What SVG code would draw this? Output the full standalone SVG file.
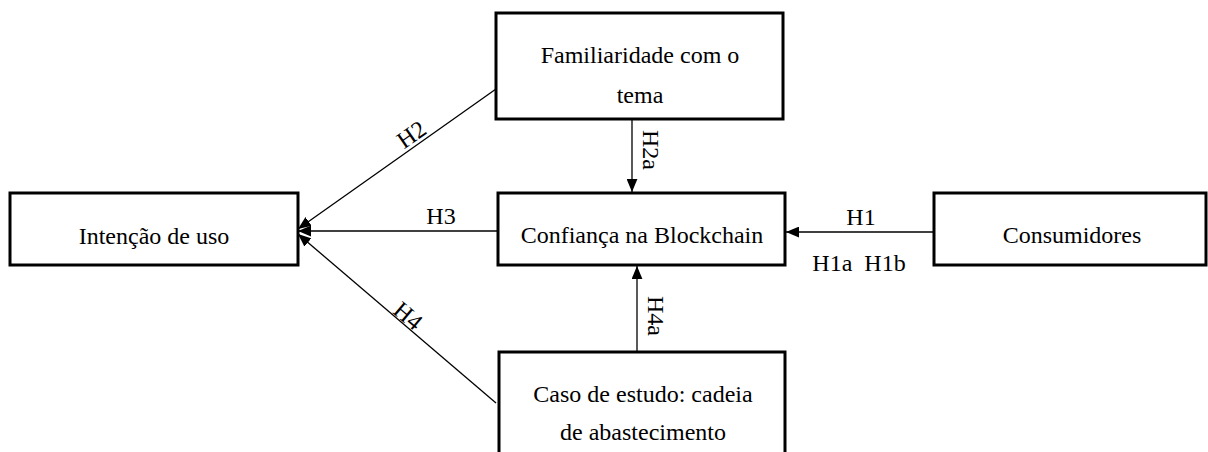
<svg xmlns="http://www.w3.org/2000/svg" width="1208" height="452" viewBox="0 0 1208 452">
<style>
.box{fill:#fff;stroke:#000;stroke-width:3}
.t{font-family:"Liberation Serif","Times New Roman",serif;font-size:24px;fill:#000;text-anchor:middle;white-space:pre}
.c{stroke:#000;stroke-width:1.3;fill:none}
</style>
<defs>
<marker id="ah" viewBox="0 0 12 10" refX="12" refY="5" markerWidth="13" markerHeight="11" markerUnits="userSpaceOnUse" orient="auto">
<path d="M0,0 L12,5 L0,10 Z" fill="#000"/>
</marker>
</defs>
<rect width="1208" height="452" fill="#fff"/>
<g id="connectors">
<line class="c" x1="496" y1="89" x2="298" y2="229" marker-end="url(#ah)"/>
<line class="c" x1="498" y1="231" x2="298" y2="231" marker-end="url(#ah)"/>
<line class="c" x1="496" y1="403" x2="298" y2="234" marker-end="url(#ah)"/>
<line class="c" x1="632" y1="119" x2="632" y2="192" marker-end="url(#ah)"/>
<line class="c" x1="637" y1="351" x2="637" y2="266" marker-end="url(#ah)"/>
<line class="c" x1="933" y1="232" x2="786" y2="232" marker-end="url(#ah)"/>
<text class="t" transform="translate(416,141) rotate(-35)">H2</text>
<text class="t" x="441" y="224">H3</text>
<text class="t" transform="translate(403,322) rotate(40)">H4</text>
<text class="t" transform="translate(643,150) rotate(90)">H2a</text>
<text class="t" transform="translate(648,316) rotate(90)">H4a</text>
<text class="t" x="861" y="225">H1</text>
<text class="t" x="859" y="271">H1a  H1b</text>
</g>
<g id="intencao">
<rect class="box" x="10" y="193" width="288" height="72"/>
<text class="t" x="154" y="244">Intenção de uso</text>
</g>
<g id="familiaridade">
<rect class="box" x="496" y="13" width="287" height="106"/>
<text class="t" x="640" y="63">Familiaridade com o</text>
<text class="t" x="640" y="103">tema</text>
</g>
<g id="confianca">
<rect class="box" x="498" y="193" width="287" height="72"/>
<text class="t" x="642" y="243">Confiança na Blockchain</text>
</g>
<g id="consumidores">
<rect class="box" x="934" y="193" width="272" height="72"/>
<text class="t" x="1072" y="243">Consumidores</text>
</g>
<g id="caso">
<rect class="box" x="499" y="352" width="286" height="110"/>
<text class="t" x="643" y="402">Caso de estudo: cadeia</text>
<text class="t" x="643" y="440">de abastecimento</text>
</g>
</svg>
